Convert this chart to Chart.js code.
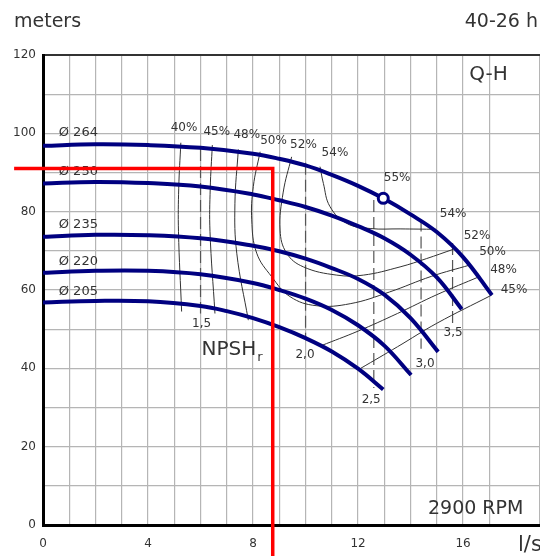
<!DOCTYPE html>
<html>
<head>
<meta charset="utf-8">
<script src="https://cdn.jsdelivr.net/npm/chart.js@4.4.1/dist/chart.umd.min.js"></script>
<style>
  html, body { margin: 0; padding: 0; background: #fff; }
  canvas { display: block; }
</style>
</head>
<body>
<canvas id="pump" width="540" height="556"></canvas>
<script>
// impeller curves Q (l/s) vs H (m)
var q264 = [0, 2, 4, 6, 8, 9, 10, 11, 12, 12.96, 14, 15, 16, 17.1];
var h264 = [96.8, 97.2, 97.0, 96.3, 94.8, 93.5, 91.8, 89.4, 86.6, 83.4, 79.3, 74.8, 68.4, 58.7];
var q250 = [0, 2, 4, 6, 8, 9, 10, 11, 12, 13, 14, 15, 15.95];
var h250 = [87.2, 87.6, 87.3, 86.4, 84.4, 82.9, 81.2, 79.0, 76.3, 73.2, 69.0, 63.2, 55.1];
var q235 = [0, 2, 4, 6, 8, 9, 10, 11, 12, 13, 14, 15.05];
var h235 = [73.6, 74.1, 74.0, 73.2, 71.3, 69.9, 68.0, 65.6, 62.8, 58.8, 52.8, 44.2];
var q220 = [0, 2, 4, 6, 8, 9, 10, 11, 12, 13, 14.02];
var h220 = [64.4, 64.9, 64.9, 64.0, 61.8, 60.0, 57.8, 54.9, 51.0, 45.8, 38.3];
var q205 = [0, 2, 4, 6, 7, 8, 9, 10, 11, 12, 12.96];
var h205 = [56.8, 57.2, 57.1, 55.9, 54.6, 52.8, 50.5, 47.7, 44.3, 39.9, 34.6];

// iso-efficiency lines
var qEff40 = [5.25, 5.17, 5.16, 5.28];
var hEff40 = [97.6, 86, 75, 54.5];
var qEff45 = [6.45, 6.37, 6.36, 6.55];
var hEff45 = [97, 86, 75, 54];
var qEff48 = [7.44, 7.31, 7.38, 7.82];
var hEff48 = [95.9, 82, 69.4, 52.3];
var qEff50 = [8.27, 8.01, 7.95, 8.14, 8.71, 9.41, 10.4, 11.7, 13.2, 14.8, 16.27];
var hEff50 = [95.3, 86.4, 77.9, 69.4, 63.4, 58.3, 56.0, 56.5, 59.5, 63.5, 66.4];
var qEff52 = [9.47, 9.15, 9.03, 9.28, 9.92, 11.19, 12.2, 13.6, 14.6, 15.63];
var hEff52 = [94.0, 85, 75.3, 69.4, 65.9, 63.8, 63.8, 65.9, 68.0, 70.4];
var qEff54 = [10.55, 10.68, 10.93, 11.57, 12.46, 13.6, 14.97];
var hEff54 = [91.5, 87.2, 81.3, 77.0, 75.7, 75.6, 75.5];
var qEff48r = [10.6, 12, 13.5, 15, 16.65];
var hEff48r = [45.8, 49.5, 54, 58.8, 63.5];
var qEff45r = [12.1, 13.5, 15, 17.09];
var hEff45r = [40, 45.5, 51.5, 58.7];

// NPSHr marks: flow, top head, bottom head
var npshLabels = ["1,5", "2,0", "2,5", "3,0", "3,5"];
var npshFlow = [6.0, 10.0, 12.6, 14.4, 15.6];
var npshTop = [96, 92.5, 83, 78, 72];
var npshBottom = [54, 48, 35, 45, 51.5];

// best efficiency point and duty point
var bepQ = 12.96, bepH = 83.4;
var dutyQ = 8.75, dutyH = 91;

var navy = "#000080";
var ink = "#333";
var fontFam = '"DejaVu Sans", Verdana, sans-serif';

function pts(qs, hs) {
    return qs.map(function (q, i) { return { x: q, y: hs[i] }; });
}

function curve(qs, hs) {
    return { data: pts(qs, hs), borderColor: navy, borderWidth: 4, tension: 0.4, order: 2 };
}

function thin(qs, hs) {
    return { data: pts(qs, hs), borderColor: "#333", borderWidth: 1, tension: 0.4, order: 3 };
}

var datasets = [
    { data: [{ x: -1.1, y: dutyH }, { x: dutyQ, y: dutyH }, { x: dutyQ, y: -9 }],
      borderColor: "#ff0000", borderWidth: 3.5, tension: 0, clip: false, order: 0 },
    { data: [{ x: bepQ, y: bepH }], showLine: false, pointRadius: 5, pointBorderWidth: 3,
      pointBackgroundColor: "#fff", pointBorderColor: navy, order: 1 },
    curve(q264, h264), curve(q250, h250), curve(q235, h235), curve(q220, h220), curve(q205, h205),
    thin(qEff40, hEff40), thin(qEff45, hEff45), thin(qEff48, hEff48), thin(qEff50, hEff50),
    thin(qEff52, hEff52), thin(qEff54, hEff54), thin(qEff48r, hEff48r), thin(qEff45r, hEff45r)
];
npshFlow.forEach(function (q, i) {
    datasets.push({ data: [{ x: q, y: npshTop[i] }, { x: q, y: npshBottom[i] }],
        borderColor: "#555", borderWidth: 1.2, borderDash: [12, 5], order: 3 });
});

// text placed in data units
var notes = [
    { t: "40%", q: 5.37, h: 101.4 }, { t: "45%", q: 6.62, h: 100.4 },
    { t: "48%", q: 7.76, h: 99.6 }, { t: "50%", q: 8.78, h: 98.2 },
    { t: "52%", q: 9.92, h: 97.0 }, { t: "54%", q: 11.12, h: 95.0 },
    { t: "55%", q: 13.49, h: 88.6 },
    { t: "54%", q: 15.62, h: 79.5 }, { t: "52%", q: 16.53, h: 73.9 },
    { t: "50%", q: 17.12, h: 69.8 }, { t: "48%", q: 17.54, h: 65.2 },
    { t: "45%", q: 17.94, h: 60.0 },
    { t: npshLabels[0], q: 6.04, h: 51.4 }, { t: npshLabels[1], q: 9.98, h: 43.4 },
    { t: npshLabels[2], q: 12.5, h: 31.9 }, { t: npshLabels[3], q: 14.55, h: 41.1 },
    { t: npshLabels[4], q: 15.62, h: 49.0 },
    { t: "Ø 264", q: 0.6, h: 100.3, size: 13, align: "left" },
    { t: "Ø 250", q: 0.6, h: 90.2, size: 13, align: "left" },
    { t: "Ø 235", q: 0.6, h: 76.6, size: 13, align: "left" },
    { t: "Ø 220", q: 0.6, h: 67.2, size: 13, align: "left" },
    { t: "Ø 205", q: 0.6, h: 59.6, size: 13, align: "left" },
    { t: "Q-H", q: 16.97, h: 114.9, size: 20 },
    { t: "2900 RPM", q: 16.48, h: 4.1, size: 19 }
];

var textPlugin = {
    id: "texts",
    beforeDatasetsDraw: function (chart) {
        var ctx = chart.ctx, x = chart.scales.x, y = chart.scales.y;
        ctx.save();
        ctx.fillStyle = ink;
        ctx.textBaseline = "middle";
        notes.forEach(function (n) {
            ctx.font = (n.size || 12) + "px " + fontFam;
            ctx.textAlign = n.align || "center";
            ctx.fillText(n.t, x.getPixelForValue(n.q), y.getPixelForValue(n.h));
        });
        // NPSH with subscript r
        var nx = x.getPixelForValue(6.04), ny = y.getPixelForValue(44.7);
        ctx.textAlign = "left";
        ctx.font = "20px " + fontFam;
        ctx.fillText("NPSH", nx, ny);
        var w = ctx.measureText("NPSH").width;
        ctx.font = "13px " + fontFam;
        ctx.fillText("r", nx + w + 1, ny + 8);
        // outer labels
        ctx.font = "19px " + fontFam;
        ctx.fillText("meters", 14, 22);
        ctx.textAlign = "right";
        ctx.fillText("40-26 h", 538, 22);
        ctx.textAlign = "left";
        ctx.font = "21px " + fontFam;
        ctx.fillText("l/s", 518, 546);
        ctx.restore();
    }
};

new Chart(document.getElementById("pump").getContext("2d"), {
    type: "scatter",
    data: { datasets: datasets },
    options: {
        responsive: false,
        animation: false,
        showLine: true,
        elements: { point: { radius: 0 } },
        layout: { autoPadding: false, padding: { top: 55, left: 0, right: 0, bottom: 0 } },
        plugins: { legend: { display: false }, tooltip: { enabled: false } },
        scales: {
            x: {
                type: "linear", min: 0, max: 18.93,
                afterFit: function (s) { s.height = 31; s.paddingLeft = 0; s.paddingRight = 0; },
                ticks: {
                    stepSize: 1, autoSkip: false, maxRotation: 0, padding: 12,
                    color: ink, font: { family: fontFam, size: 12 },
                    callback: function (v) { return v % 4 === 0 ? v : ""; }
                },
                grid: { color: "#b5b5b5", lineWidth: 1.2, drawTicks: false },
                border: { color: "#000", width: 3 }
            },
            y: {
                min: 0, max: 120,
                afterFit: function (s) { s.width = 43; s.paddingTop = 0; s.paddingBottom = 0; },
                ticks: {
                    stepSize: 10, autoSkip: false, padding: 7,
                    color: ink, font: { family: fontFam, size: 12 },
                    callback: function (v) { return v % 20 === 0 ? v : ""; }
                },
                grid: {
                    drawTicks: false,
                    color: function (c) { return c.tick && c.tick.value === 120 ? "#333" : "#b5b5b5"; },
                    lineWidth: function (c) { return c.tick && c.tick.value === 120 ? 2 : 1.2; }
                },
                border: { color: "#000", width: 3 }
            }
        }
    },
    plugins: [textPlugin]
});
</script>
</body>
</html>
